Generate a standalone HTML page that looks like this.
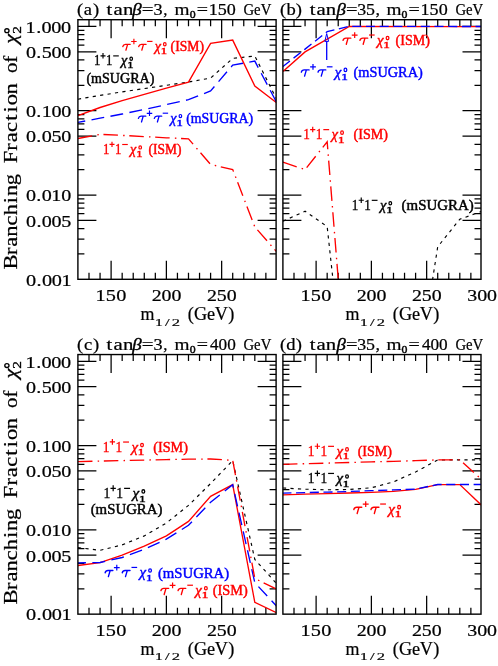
<!DOCTYPE html>
<html><head><meta charset="utf-8"><title>Branching fractions</title>
<style>html,body{margin:0;padding:0;background:#fff}svg{display:block;will-change:transform}text{font-family:"Liberation Serif",serif;white-space:pre}</style></head><body>
<svg width="498" height="666" viewBox="0 0 498 666">
<rect width="498" height="666" fill="#fff"/>
<defs>
<clipPath id="clipa"><rect x="77.9" y="19.7" width="198.2" height="259.6"/></clipPath>
<clipPath id="clipb"><rect x="282.9" y="19.7" width="198.1" height="259.6"/></clipPath>
<clipPath id="clipc"><rect x="77.9" y="354.55" width="198.2" height="259.6"/></clipPath>
<clipPath id="clipd"><rect x="282.9" y="354.55" width="198.1" height="259.6"/></clipPath>
</defs>
<path d="M77.9 253.93h6.5M276.1 253.93h-6.5M77.9 239.09h6.5M276.1 239.09h-6.5M77.9 228.56h6.5M276.1 228.56h-6.5M77.9 220.39h18.5M276.1 220.39h-18.5M77.9 213.71h6.5M276.1 213.71h-6.5M77.9 208.07h6.5M276.1 208.07h-6.5M77.9 203.18h6.5M276.1 203.18h-6.5M77.9 198.87h6.5M276.1 198.87h-6.5M77.9 195.02h18.5M276.1 195.02h-18.5M77.9 169.64h6.5M276.1 169.64h-6.5M77.9 154.8h6.5M276.1 154.8h-6.5M77.9 144.27h6.5M276.1 144.27h-6.5M77.9 136.11h18.5M276.1 136.11h-18.5M77.9 129.43h6.5M276.1 129.43h-6.5M77.9 123.79h6.5M276.1 123.79h-6.5M77.9 118.9h6.5M276.1 118.9h-6.5M77.9 114.59h6.5M276.1 114.59h-6.5M77.9 110.73h18.5M276.1 110.73h-18.5M77.9 85.36h6.5M276.1 85.36h-6.5M77.9 70.52h6.5M276.1 70.52h-6.5M77.9 59.99h6.5M276.1 59.99h-6.5M77.9 51.82h18.5M276.1 51.82h-18.5M77.9 45.15h6.5M276.1 45.15h-6.5M77.9 39.51h6.5M276.1 39.51h-6.5M77.9 34.62h6.5M276.1 34.62h-6.5M77.9 30.31h6.5M276.1 30.31h-6.5M77.9 26.45h18.5M276.1 26.45h-18.5M89 19.7v6.5M89 279.3v-6.5M100.06 19.7v6.5M100.06 279.3v-6.5M111.11 19.7v18.5M111.11 279.3v-18.5M122.17 19.7v6.5M122.17 279.3v-6.5M133.22 19.7v6.5M133.22 279.3v-6.5M144.27 19.7v6.5M144.27 279.3v-6.5M155.33 19.7v6.5M155.33 279.3v-6.5M166.38 19.7v18.5M166.38 279.3v-18.5M177.44 19.7v6.5M177.44 279.3v-6.5M188.49 19.7v6.5M188.49 279.3v-6.5M199.54 19.7v6.5M199.54 279.3v-6.5M210.6 19.7v6.5M210.6 279.3v-6.5M221.65 19.7v18.5M221.65 279.3v-18.5M232.71 19.7v6.5M232.71 279.3v-6.5M243.76 19.7v6.5M243.76 279.3v-6.5M254.81 19.7v6.5M254.81 279.3v-6.5M265.87 19.7v6.5M265.87 279.3v-6.5" fill="none" stroke="#000000" stroke-width="1.25"/>
<path d="M282.9 253.93h6.5M481 253.93h-6.5M282.9 239.09h6.5M481 239.09h-6.5M282.9 228.56h6.5M481 228.56h-6.5M282.9 220.39h18.5M481 220.39h-18.5M282.9 213.71h6.5M481 213.71h-6.5M282.9 208.07h6.5M481 208.07h-6.5M282.9 203.18h6.5M481 203.18h-6.5M282.9 198.87h6.5M481 198.87h-6.5M282.9 195.02h18.5M481 195.02h-18.5M282.9 169.64h6.5M481 169.64h-6.5M282.9 154.8h6.5M481 154.8h-6.5M282.9 144.27h6.5M481 144.27h-6.5M282.9 136.11h18.5M481 136.11h-18.5M282.9 129.43h6.5M481 129.43h-6.5M282.9 123.79h6.5M481 123.79h-6.5M282.9 118.9h6.5M481 118.9h-6.5M282.9 114.59h6.5M481 114.59h-6.5M282.9 110.73h18.5M481 110.73h-18.5M282.9 85.36h6.5M481 85.36h-6.5M282.9 70.52h6.5M481 70.52h-6.5M282.9 59.99h6.5M481 59.99h-6.5M282.9 51.82h18.5M481 51.82h-18.5M282.9 45.15h6.5M481 45.15h-6.5M282.9 39.51h6.5M481 39.51h-6.5M282.9 34.62h6.5M481 34.62h-6.5M282.9 30.31h6.5M481 30.31h-6.5M282.9 26.45h18.5M481 26.45h-18.5M294 19.7v6.5M294 279.3v-6.5M305.06 19.7v6.5M305.06 279.3v-6.5M316.11 19.7v18.5M316.11 279.3v-18.5M327.17 19.7v6.5M327.17 279.3v-6.5M338.22 19.7v6.5M338.22 279.3v-6.5M349.27 19.7v6.5M349.27 279.3v-6.5M360.33 19.7v6.5M360.33 279.3v-6.5M371.38 19.7v18.5M371.38 279.3v-18.5M382.44 19.7v6.5M382.44 279.3v-6.5M393.49 19.7v6.5M393.49 279.3v-6.5M404.54 19.7v6.5M404.54 279.3v-6.5M415.6 19.7v6.5M415.6 279.3v-6.5M426.65 19.7v18.5M426.65 279.3v-18.5M437.71 19.7v6.5M437.71 279.3v-6.5M448.76 19.7v6.5M448.76 279.3v-6.5M459.81 19.7v6.5M459.81 279.3v-6.5M470.87 19.7v6.5M470.87 279.3v-6.5" fill="none" stroke="#000000" stroke-width="1.25"/>
<path d="M77.9 588.78h6.5M276.1 588.78h-6.5M77.9 573.94h6.5M276.1 573.94h-6.5M77.9 563.41h6.5M276.1 563.41h-6.5M77.9 555.24h18.5M276.1 555.24h-18.5M77.9 548.56h6.5M276.1 548.56h-6.5M77.9 542.92h6.5M276.1 542.92h-6.5M77.9 538.03h6.5M276.1 538.03h-6.5M77.9 533.72h6.5M276.1 533.72h-6.5M77.9 529.87h18.5M276.1 529.87h-18.5M77.9 504.49h6.5M276.1 504.49h-6.5M77.9 489.65h6.5M276.1 489.65h-6.5M77.9 479.12h6.5M276.1 479.12h-6.5M77.9 470.96h18.5M276.1 470.96h-18.5M77.9 464.28h6.5M276.1 464.28h-6.5M77.9 458.64h6.5M276.1 458.64h-6.5M77.9 453.75h6.5M276.1 453.75h-6.5M77.9 449.44h6.5M276.1 449.44h-6.5M77.9 445.58h18.5M276.1 445.58h-18.5M77.9 420.21h6.5M276.1 420.21h-6.5M77.9 405.37h6.5M276.1 405.37h-6.5M77.9 394.84h6.5M276.1 394.84h-6.5M77.9 386.67h18.5M276.1 386.67h-18.5M77.9 380h6.5M276.1 380h-6.5M77.9 374.36h6.5M276.1 374.36h-6.5M77.9 369.47h6.5M276.1 369.47h-6.5M77.9 365.16h6.5M276.1 365.16h-6.5M77.9 361.3h18.5M276.1 361.3h-18.5M89 354.55v6.5M89 614.15v-6.5M100.06 354.55v6.5M100.06 614.15v-6.5M111.11 354.55v18.5M111.11 614.15v-18.5M122.17 354.55v6.5M122.17 614.15v-6.5M133.22 354.55v6.5M133.22 614.15v-6.5M144.27 354.55v6.5M144.27 614.15v-6.5M155.33 354.55v6.5M155.33 614.15v-6.5M166.38 354.55v18.5M166.38 614.15v-18.5M177.44 354.55v6.5M177.44 614.15v-6.5M188.49 354.55v6.5M188.49 614.15v-6.5M199.54 354.55v6.5M199.54 614.15v-6.5M210.6 354.55v6.5M210.6 614.15v-6.5M221.65 354.55v18.5M221.65 614.15v-18.5M232.71 354.55v6.5M232.71 614.15v-6.5M243.76 354.55v6.5M243.76 614.15v-6.5M254.81 354.55v6.5M254.81 614.15v-6.5M265.87 354.55v6.5M265.87 614.15v-6.5" fill="none" stroke="#000000" stroke-width="1.25"/>
<path d="M282.9 588.78h6.5M481 588.78h-6.5M282.9 573.94h6.5M481 573.94h-6.5M282.9 563.41h6.5M481 563.41h-6.5M282.9 555.24h18.5M481 555.24h-18.5M282.9 548.56h6.5M481 548.56h-6.5M282.9 542.92h6.5M481 542.92h-6.5M282.9 538.03h6.5M481 538.03h-6.5M282.9 533.72h6.5M481 533.72h-6.5M282.9 529.87h18.5M481 529.87h-18.5M282.9 504.49h6.5M481 504.49h-6.5M282.9 489.65h6.5M481 489.65h-6.5M282.9 479.12h6.5M481 479.12h-6.5M282.9 470.96h18.5M481 470.96h-18.5M282.9 464.28h6.5M481 464.28h-6.5M282.9 458.64h6.5M481 458.64h-6.5M282.9 453.75h6.5M481 453.75h-6.5M282.9 449.44h6.5M481 449.44h-6.5M282.9 445.58h18.5M481 445.58h-18.5M282.9 420.21h6.5M481 420.21h-6.5M282.9 405.37h6.5M481 405.37h-6.5M282.9 394.84h6.5M481 394.84h-6.5M282.9 386.67h18.5M481 386.67h-18.5M282.9 380h6.5M481 380h-6.5M282.9 374.36h6.5M481 374.36h-6.5M282.9 369.47h6.5M481 369.47h-6.5M282.9 365.16h6.5M481 365.16h-6.5M282.9 361.3h18.5M481 361.3h-18.5M294 354.55v6.5M294 614.15v-6.5M305.06 354.55v6.5M305.06 614.15v-6.5M316.11 354.55v18.5M316.11 614.15v-18.5M327.17 354.55v6.5M327.17 614.15v-6.5M338.22 354.55v6.5M338.22 614.15v-6.5M349.27 354.55v6.5M349.27 614.15v-6.5M360.33 354.55v6.5M360.33 614.15v-6.5M371.38 354.55v18.5M371.38 614.15v-18.5M382.44 354.55v6.5M382.44 614.15v-6.5M393.49 354.55v6.5M393.49 614.15v-6.5M404.54 354.55v6.5M404.54 614.15v-6.5M415.6 354.55v6.5M415.6 614.15v-6.5M426.65 354.55v18.5M426.65 614.15v-18.5M437.71 354.55v6.5M437.71 614.15v-6.5M448.76 354.55v6.5M448.76 614.15v-6.5M459.81 354.55v6.5M459.81 614.15v-6.5M470.87 354.55v6.5M470.87 614.15v-6.5" fill="none" stroke="#000000" stroke-width="1.25"/>
<path d="M77.95 99.2L100.06 95.4L122.17 91.9L144.27 88.6L166.38 85.3L188.49 82L210.6 78.1L232.71 58.4L254.81 56L276.92 99.7" fill="none" stroke="#000000" stroke-width="1.15" stroke-linejoin="miter" stroke-dasharray="3.2 4.3" clip-path="url(#clipa)"/>
<path d="M77.95 115.7L100.06 107.5L122.17 100.6L144.27 94.3L166.38 88.2L188.49 82.1L210.6 43.4L232.71 40.1L254.81 86L276.92 103" fill="none" stroke="#ff0000" stroke-width="1.35" stroke-linejoin="miter" clip-path="url(#clipa)"/>
<path d="M77.95 122.4L100.06 118.2L122.17 114L144.27 109.5L166.38 104.6L188.49 99.7L210.6 90.9L232.71 65.1L254.81 61.1L276.92 103" fill="none" stroke="#0000ff" stroke-width="1.35" stroke-linejoin="miter" stroke-dasharray="12.9 6.4" stroke-dashoffset="5.5" clip-path="url(#clipa)"/>
<path d="M77.95 138.5L100.06 134.3L122.17 135.4L144.27 136.6L166.38 137.8L188.49 138.8L210.6 164.5L232.71 169.5L254.81 226.9L276.92 252.1" fill="none" stroke="#ff0000" stroke-width="1.35" stroke-linejoin="miter" stroke-dasharray="14.5 5.2 1.5 4.7" clip-path="url(#clipa)"/>
<path d="M282.95 221.2L305.06 211.2L327.17 226.6L333 280" fill="none" stroke="#000000" stroke-width="1.15" stroke-linejoin="miter" stroke-dasharray="3.2 4.3" clip-path="url(#clipb)"/>
<path d="M432.5 280L437.71 246.8L459.81 219.2L481.92 211.3" fill="none" stroke="#000000" stroke-width="1.15" stroke-linejoin="miter" stroke-dasharray="3.2 4.3" clip-path="url(#clipb)"/>
<path d="M282.95 71.4L305.06 51.9L349.27 26.4L481.92 26.6" fill="none" stroke="#ff0000" stroke-width="1.35" stroke-linejoin="miter" clip-path="url(#clipb)"/>
<path d="M282.95 66.5L305.06 49.1L327.17 31.7L349.27 26.3L481.92 26.5" fill="none" stroke="#0000ff" stroke-width="1.35" stroke-linejoin="miter" stroke-dasharray="9.1 4.6" stroke-dashoffset="0.2" clip-path="url(#clipb)"/>
<path d="M282.95 162.2L305.06 169.6L327.17 141.8L338.3 280" fill="none" stroke="#ff0000" stroke-width="1.35" stroke-linejoin="miter" stroke-dasharray="14.5 5.2 1.5 4.7" clip-path="url(#clipb)"/>
<path d="M326.7 60.1V41.3" fill="none" stroke="#0000ff" stroke-width="1.3"/>
<path d="M324.8 41.4L326.7 33.6L328.6 41.4Z" fill="none" stroke="#0000ff" stroke-width="1"/>
<path d="M77.95 547.6L100.06 550.3L122.17 544.9L144.27 535.9L166.38 523L188.49 505.4L210.6 483.5L232.71 460.6L254.81 559.4L276.92 584" fill="none" stroke="#000000" stroke-width="1.15" stroke-linejoin="miter" stroke-dasharray="3.2 4.3" clip-path="url(#clipc)"/>
<path d="M77.95 565.5L100.06 562.6L122.17 555.2L144.27 546.2L166.38 535.9L188.49 521.4L210.6 496.4L232.71 484.6L254.81 602.3L276.92 613" fill="none" stroke="#ff0000" stroke-width="1.35" stroke-linejoin="miter" clip-path="url(#clipc)"/>
<path d="M77.95 562.9L100.06 562.5L122.17 557.5L144.27 549.4L166.38 539.1L188.49 525.3L210.6 502.2L232.71 484.8L254.81 582.7L276.92 606.5" fill="none" stroke="#0000ff" stroke-width="1.35" stroke-linejoin="miter" stroke-dasharray="12.9 6.4" stroke-dashoffset="4.9" clip-path="url(#clipc)"/>
<path d="M77.95 461.6L100.06 461.1L122.17 460.6L144.27 460.1L166.38 459.6L188.49 459.2L210.6 459L232.71 460.3L254.81 578.5L276.92 589.3" fill="none" stroke="#ff0000" stroke-width="1.35" stroke-linejoin="miter" stroke-dasharray="14.5 5.2 1.5 4.7" clip-path="url(#clipc)"/>
<path d="M282.95 488L305.06 489.2L327.17 489.8L349.27 489.5L371.38 487.8L393.49 481.9L415.6 471.9L437.71 460L459.81 459.9L481.92 459.9" fill="none" stroke="#000000" stroke-width="1.15" stroke-linejoin="miter" stroke-dasharray="3.2 4.3" clip-path="url(#clipd)"/>
<path d="M282.95 494.8L305.06 494.2L327.17 493.6L349.27 493L371.38 492.3L393.49 491.3L415.6 489.4L437.71 484.6L459.81 484.6L481.92 505.6" fill="none" stroke="#ff0000" stroke-width="1.35" stroke-linejoin="miter" clip-path="url(#clipd)"/>
<path d="M282.95 493.1L305.06 492.6L327.17 492.1L349.27 491.5L371.38 490.7L393.49 489.9L415.6 489.1L437.71 484.5L459.81 484.5L481.92 484.5" fill="none" stroke="#0000ff" stroke-width="1.35" stroke-linejoin="miter" stroke-dasharray="9.1 4.6" stroke-dashoffset="0.6" clip-path="url(#clipd)"/>
<path d="M282.95 464.3L305.06 463.7L327.17 463.1L349.27 462.5L371.38 461.9L393.49 461.3L415.6 460.7L437.71 459.9L459.81 459.9L481.92 479.8" fill="none" stroke="#ff0000" stroke-width="1.35" stroke-linejoin="miter" stroke-dasharray="14.5 5.2 1.5 4.7" clip-path="url(#clipd)"/>
<rect x="77.9" y="19.7" width="198.2" height="259.6" fill="none" stroke="#000000" stroke-width="1.4"/>
<rect x="282.9" y="19.7" width="198.1" height="259.6" fill="none" stroke="#000000" stroke-width="1.4"/>
<rect x="77.9" y="354.55" width="198.2" height="259.6" fill="none" stroke="#000000" stroke-width="1.4"/>
<rect x="282.9" y="354.55" width="198.1" height="259.6" fill="none" stroke="#000000" stroke-width="1.4"/>
<text transform="translate(27.4 32.75) scale(1.198 1)" x="-1.49 7.33 11.86 19.97 28.09" font-size="16.9" fill="#000000" stroke="#000000" stroke-width="0.22">1.000</text>
<text transform="translate(26.7 58.12) scale(1.190 1)" x="-0.64 8.12 12.62 20.8 28.93" font-size="16.9" fill="#000000" stroke="#000000" stroke-width="0.22">0.500</text>
<text transform="translate(26.7 117.03) scale(1.190 1)" x="-0.64 8.12 12.59 20.8 28.93" font-size="16.9" fill="#000000" stroke="#000000" stroke-width="0.22">0.100</text>
<text transform="translate(26.7 142.41) scale(1.190 1)" x="-0.64 8.12 12.67 20.75 28.93" font-size="16.9" fill="#000000" stroke="#000000" stroke-width="0.22">0.050</text>
<text transform="translate(26.7 201.32) scale(1.190 1)" x="-0.64 8.12 12.67 20.73 28.93" font-size="16.9" fill="#000000" stroke="#000000" stroke-width="0.22">0.010</text>
<text transform="translate(26.7 226.69) scale(1.190 1)" x="-0.64 8.14 12.69 20.83 28.93" font-size="16.9" fill="#000000" stroke="#000000" stroke-width="0.22">0.005</text>
<text transform="translate(26.7 285.6) scale(1.200 1)" x="-0.64 8.15 12.73 20.89 28.98" font-size="16.9" fill="#000000" stroke="#000000" stroke-width="0.22">0.001</text>
<text transform="translate(27.4 367.6) scale(1.198 1)" x="-1.49 7.33 11.86 19.97 28.09" font-size="16.9" fill="#000000" stroke="#000000" stroke-width="0.22">1.000</text>
<text transform="translate(26.7 392.97) scale(1.190 1)" x="-0.64 8.12 12.62 20.8 28.93" font-size="16.9" fill="#000000" stroke="#000000" stroke-width="0.22">0.500</text>
<text transform="translate(26.7 451.88) scale(1.190 1)" x="-0.64 8.12 12.59 20.8 28.93" font-size="16.9" fill="#000000" stroke="#000000" stroke-width="0.22">0.100</text>
<text transform="translate(26.7 477.26) scale(1.190 1)" x="-0.64 8.12 12.67 20.75 28.93" font-size="16.9" fill="#000000" stroke="#000000" stroke-width="0.22">0.050</text>
<text transform="translate(26.7 536.17) scale(1.190 1)" x="-0.64 8.12 12.67 20.73 28.93" font-size="16.9" fill="#000000" stroke="#000000" stroke-width="0.22">0.010</text>
<text transform="translate(26.7 561.54) scale(1.190 1)" x="-0.64 8.14 12.69 20.83 28.93" font-size="16.9" fill="#000000" stroke="#000000" stroke-width="0.22">0.005</text>
<text transform="translate(26.7 620.45) scale(1.200 1)" x="-0.64 8.15 12.73 20.89 28.98" font-size="16.9" fill="#000000" stroke="#000000" stroke-width="0.22">0.001</text>
<text transform="translate(97.31 300.8) scale(1.200 1)" x="-1.49 7.09 15.69" font-size="16.9" fill="#000000" stroke="#000000" stroke-width="0.22">150</text>
<text transform="translate(152.58 300.8) scale(1.177 1)" x="-0.74 7.69 16.16" font-size="16.9" fill="#000000" stroke="#000000" stroke-width="0.22">200</text>
<text transform="translate(207.85 300.8) scale(1.177 1)" x="-0.74 7.64 16.16" font-size="16.9" fill="#000000" stroke="#000000" stroke-width="0.22">250</text>
<text transform="translate(97.31 635.65) scale(1.200 1)" x="-1.49 7.09 15.69" font-size="16.9" fill="#000000" stroke="#000000" stroke-width="0.22">150</text>
<text transform="translate(152.58 635.65) scale(1.177 1)" x="-0.74 7.69 16.16" font-size="16.9" fill="#000000" stroke="#000000" stroke-width="0.22">200</text>
<text transform="translate(207.85 635.65) scale(1.177 1)" x="-0.74 7.64 16.16" font-size="16.9" fill="#000000" stroke="#000000" stroke-width="0.22">250</text>
<text transform="translate(302.31 300.8) scale(1.200 1)" x="-1.49 7.09 15.69" font-size="16.9" fill="#000000" stroke="#000000" stroke-width="0.22">150</text>
<text transform="translate(357.58 300.8) scale(1.177 1)" x="-0.74 7.69 16.16" font-size="16.9" fill="#000000" stroke="#000000" stroke-width="0.22">200</text>
<text transform="translate(412.85 300.8) scale(1.177 1)" x="-0.74 7.64 16.16" font-size="16.9" fill="#000000" stroke="#000000" stroke-width="0.22">250</text>
<text transform="translate(468.12 300.8) scale(1.180 1)" x="-0.81 7.65 16.09" font-size="16.9" fill="#000000" stroke="#000000" stroke-width="0.22">300</text>
<text transform="translate(302.31 635.65) scale(1.200 1)" x="-1.49 7.09 15.69" font-size="16.9" fill="#000000" stroke="#000000" stroke-width="0.22">150</text>
<text transform="translate(357.58 635.65) scale(1.177 1)" x="-0.74 7.69 16.16" font-size="16.9" fill="#000000" stroke="#000000" stroke-width="0.22">200</text>
<text transform="translate(412.85 635.65) scale(1.177 1)" x="-0.74 7.64 16.16" font-size="16.9" fill="#000000" stroke="#000000" stroke-width="0.22">250</text>
<text transform="translate(468.12 635.65) scale(1.180 1)" x="-0.81 7.65 16.09" font-size="16.9" fill="#000000" stroke="#000000" stroke-width="0.22">300</text>
<text transform="translate(140.8 319.8) scale(0.925 1)" x="-0.41" font-size="19.4" fill="#000000" stroke="#000000" stroke-width="0.22">m</text>
<text transform="translate(156.2 325.5) scale(1.450 1)" x="-1 6.15 10.72" font-size="11.4" fill="#000000" stroke="#000000" stroke-width="0.18">1/2</text>
<text transform="translate(188.6 319.8) scale(0.941 1)" x="-0.85 5.86 19.6 27.93 42.24" font-size="19.4" fill="#000000" stroke="#000000" stroke-width="0.22">(GeV)</text>
<text transform="translate(140.8 654.65) scale(0.925 1)" x="-0.41" font-size="19.4" fill="#000000" stroke="#000000" stroke-width="0.22">m</text>
<text transform="translate(156.2 660.35) scale(1.450 1)" x="-1 6.15 10.72" font-size="11.4" fill="#000000" stroke="#000000" stroke-width="0.18">1/2</text>
<text transform="translate(188.6 654.65) scale(0.941 1)" x="-0.85 5.86 19.6 27.93 42.24" font-size="19.4" fill="#000000" stroke="#000000" stroke-width="0.22">(GeV)</text>
<text transform="translate(345.8 319.8) scale(0.925 1)" x="-0.41" font-size="19.4" fill="#000000" stroke="#000000" stroke-width="0.22">m</text>
<text transform="translate(361.2 325.5) scale(1.450 1)" x="-1 6.15 10.72" font-size="11.4" fill="#000000" stroke="#000000" stroke-width="0.18">1/2</text>
<text transform="translate(393.6 319.8) scale(0.941 1)" x="-0.85 5.86 19.6 27.93 42.24" font-size="19.4" fill="#000000" stroke="#000000" stroke-width="0.22">(GeV)</text>
<text transform="translate(345.8 654.65) scale(0.925 1)" x="-0.41" font-size="19.4" fill="#000000" stroke="#000000" stroke-width="0.22">m</text>
<text transform="translate(361.2 660.35) scale(1.450 1)" x="-1 6.15 10.72" font-size="11.4" fill="#000000" stroke="#000000" stroke-width="0.18">1/2</text>
<text transform="translate(393.6 654.65) scale(0.941 1)" x="-0.85 5.86 19.6 27.93 42.24" font-size="19.4" fill="#000000" stroke="#000000" stroke-width="0.22">(GeV)</text>
<g transform="translate(16.9 268.9) rotate(-90)">
<text transform="translate(0 0) scale(1.160 1)" x="-0.56 11.95 19.16 27.82 37.52 46.17 56.64 62.8 72.13" font-size="19.4" fill="#000000" stroke="#000000" stroke-width="0.22">Branching</text>
<text transform="translate(106.2 0) scale(1.160 1)" x="-0.56 10.36 17.54 26.45 36.12 43.36 49.52 58.87" font-size="19.4" fill="#000000" stroke="#000000" stroke-width="0.22">Fraction</text>
<text transform="translate(196.6 0) scale(1.076 1)" x="-0.74 8.96" font-size="19.4" fill="#000000" stroke="#000000" stroke-width="0.22">of</text>
<text transform="translate(223.4 0) scale(1.154 1)" x="1.55" font-size="19.4" fill="#000000" font-style="italic" stroke="#000000" stroke-width="0.3">χ</text>
<text transform="translate(235.7 3.7) scale(1.153 1)" x="-0.58" font-size="13.2" fill="#000000" stroke="#000000" stroke-width="0.35">2</text>
<ellipse cx="238.2" cy="-10.0" rx="1.9" ry="2.1" fill="none" stroke="#000" stroke-width="1.35"/>
</g>
<g transform="translate(16.9 603.75) rotate(-90)">
<text transform="translate(0 0) scale(1.160 1)" x="-0.56 11.95 19.16 27.82 37.52 46.17 56.64 62.8 72.13" font-size="19.4" fill="#000000" stroke="#000000" stroke-width="0.22">Branching</text>
<text transform="translate(106.2 0) scale(1.160 1)" x="-0.56 10.36 17.54 26.45 36.12 43.36 49.52 58.87" font-size="19.4" fill="#000000" stroke="#000000" stroke-width="0.22">Fraction</text>
<text transform="translate(196.6 0) scale(1.076 1)" x="-0.74 8.96" font-size="19.4" fill="#000000" stroke="#000000" stroke-width="0.22">of</text>
<text transform="translate(223.4 0) scale(1.154 1)" x="1.55" font-size="19.4" fill="#000000" font-style="italic" stroke="#000000" stroke-width="0.3">χ</text>
<text transform="translate(235.7 3.7) scale(1.153 1)" x="-0.58" font-size="13.2" fill="#000000" stroke="#000000" stroke-width="0.35">2</text>
<ellipse cx="238.2" cy="-10.0" rx="1.9" ry="2.1" fill="none" stroke="#000" stroke-width="1.35"/>
</g>
<text transform="translate(77.8 15) scale(1.160 1)" x="-0.7 5.2 13.05" font-size="16" fill="#000000" stroke="#000000" stroke-width="0.22">(a)</text>
<text transform="translate(106.7 15) scale(1.300 1)" x="-0.16 5.29 12.63" font-size="16" fill="#000000" stroke="#000000" stroke-width="0.22">tan</text>
<text transform="translate(132 15) scale(1.182 1)" x="0.26" font-size="16" fill="#000000" font-style="italic" stroke="#000000" stroke-width="0.4">β</text>
<text transform="translate(142.9 15) scale(1.303 1)" x="-0.8" font-size="16" fill="#000000" stroke="#000000" stroke-width="0.22">=</text>
<text transform="translate(154.3 15) scale(1.135 1)" x="-0.77" font-size="16" fill="#000000" stroke="#000000" stroke-width="0.22">3</text>
<text transform="translate(164 15) scale(1.049 1)" x="-0.61" font-size="16" fill="#000000" stroke="#000000" stroke-width="0.22">,</text>
<text transform="translate(174.9 15) scale(1.206 1)" x="-0.34" font-size="16" fill="#000000" stroke="#000000" stroke-width="0.22">m</text>
<text transform="translate(190.1 18.3) scale(1.180 1)" x="-0.38" font-size="10" fill="#000000" stroke="#000000" stroke-width="0.4">0</text>
<text transform="translate(197.7 15) scale(1.249 1)" x="-0.8" font-size="16" fill="#000000" stroke="#000000" stroke-width="0.22">=</text>
<text transform="translate(210.3 15) scale(1.128 1)" x="-1.41 6.57 14.59" font-size="16" fill="#000000" stroke="#000000" stroke-width="0.22">150</text>
<text transform="translate(244.1 15) scale(0.919 1)" x="-0.66 10.9 18" font-size="16" fill="#000000" stroke="#000000" stroke-width="0.22">GeV</text>
<text transform="translate(280.7 15) scale(1.160 1)" x="-0.7 4.99 13.05" font-size="16" fill="#000000" stroke="#000000" stroke-width="0.22">(b)</text>
<text transform="translate(310 15) scale(1.300 1)" x="-0.16 5.06 12.17" font-size="16" fill="#000000" stroke="#000000" stroke-width="0.22">tan</text>
<text transform="translate(336.3 15) scale(1.170 1)" x="0.26" font-size="16" fill="#000000" font-style="italic" stroke="#000000" stroke-width="0.4">β</text>
<text transform="translate(346.9 15) scale(1.276 1)" x="-0.8" font-size="16" fill="#000000" stroke="#000000" stroke-width="0.22">=</text>
<text transform="translate(358 15) scale(1.116 1)" x="-0.77 7.23" font-size="16" fill="#000000" stroke="#000000" stroke-width="0.22">35</text>
<text transform="translate(376.3 15) scale(1.133 1)" x="-0.61" font-size="16" fill="#000000" stroke="#000000" stroke-width="0.22">,</text>
<text transform="translate(386.8 15) scale(1.206 1)" x="-0.34" font-size="16" fill="#000000" stroke="#000000" stroke-width="0.22">m</text>
<text transform="translate(402 18.3) scale(1.180 1)" x="-0.38" font-size="10" fill="#000000" stroke="#000000" stroke-width="0.4">0</text>
<text transform="translate(409.6 15) scale(1.249 1)" x="-0.8" font-size="16" fill="#000000" stroke="#000000" stroke-width="0.22">=</text>
<text transform="translate(422.2 15) scale(1.128 1)" x="-1.41 6.57 14.59" font-size="16" fill="#000000" stroke="#000000" stroke-width="0.22">150</text>
<text transform="translate(456 15) scale(0.919 1)" x="-0.66 10.9 18" font-size="16" fill="#000000" stroke="#000000" stroke-width="0.22">GeV</text>
<text transform="translate(77.8 349.85) scale(1.160 1)" x="-0.7 5.26 13.05" font-size="16" fill="#000000" stroke="#000000" stroke-width="0.22">(c)</text>
<text transform="translate(106.7 349.85) scale(1.300 1)" x="-0.16 5.29 12.63" font-size="16" fill="#000000" stroke="#000000" stroke-width="0.22">tan</text>
<text transform="translate(132 349.85) scale(1.182 1)" x="0.26" font-size="16" fill="#000000" font-style="italic" stroke="#000000" stroke-width="0.4">β</text>
<text transform="translate(142.9 349.85) scale(1.303 1)" x="-0.8" font-size="16" fill="#000000" stroke="#000000" stroke-width="0.22">=</text>
<text transform="translate(154.3 349.85) scale(1.135 1)" x="-0.77" font-size="16" fill="#000000" stroke="#000000" stroke-width="0.22">3</text>
<text transform="translate(164 349.85) scale(1.049 1)" x="-0.61" font-size="16" fill="#000000" stroke="#000000" stroke-width="0.22">,</text>
<text transform="translate(174.9 349.85) scale(1.206 1)" x="-0.34" font-size="16" fill="#000000" stroke="#000000" stroke-width="0.22">m</text>
<text transform="translate(190.1 353.15) scale(1.180 1)" x="-0.38" font-size="10" fill="#000000" stroke="#000000" stroke-width="0.4">0</text>
<text transform="translate(197.7 349.85) scale(1.249 1)" x="-0.8" font-size="16" fill="#000000" stroke="#000000" stroke-width="0.22">=</text>
<text transform="translate(210.3 349.85) scale(1.075 1)" x="-0.31 7.7 15.69" font-size="16" fill="#000000" stroke="#000000" stroke-width="0.22">400</text>
<text transform="translate(244.1 349.85) scale(0.919 1)" x="-0.66 10.9 18" font-size="16" fill="#000000" stroke="#000000" stroke-width="0.22">GeV</text>
<text transform="translate(280.7 349.85) scale(1.160 1)" x="-0.7 4.74 13.05" font-size="16" fill="#000000" stroke="#000000" stroke-width="0.22">(d)</text>
<text transform="translate(310 349.85) scale(1.300 1)" x="-0.16 5.06 12.17" font-size="16" fill="#000000" stroke="#000000" stroke-width="0.22">tan</text>
<text transform="translate(336.3 349.85) scale(1.170 1)" x="0.26" font-size="16" fill="#000000" font-style="italic" stroke="#000000" stroke-width="0.4">β</text>
<text transform="translate(346.9 349.85) scale(1.276 1)" x="-0.8" font-size="16" fill="#000000" stroke="#000000" stroke-width="0.22">=</text>
<text transform="translate(358 349.85) scale(1.116 1)" x="-0.77 7.23" font-size="16" fill="#000000" stroke="#000000" stroke-width="0.22">35</text>
<text transform="translate(376.3 349.85) scale(1.133 1)" x="-0.61" font-size="16" fill="#000000" stroke="#000000" stroke-width="0.22">,</text>
<text transform="translate(386.8 349.85) scale(1.206 1)" x="-0.34" font-size="16" fill="#000000" stroke="#000000" stroke-width="0.22">m</text>
<text transform="translate(402 353.15) scale(1.180 1)" x="-0.38" font-size="10" fill="#000000" stroke="#000000" stroke-width="0.4">0</text>
<text transform="translate(409.6 349.85) scale(1.249 1)" x="-0.8" font-size="16" fill="#000000" stroke="#000000" stroke-width="0.22">=</text>
<text transform="translate(422.2 349.85) scale(1.075 1)" x="-0.31 7.7 15.69" font-size="16" fill="#000000" stroke="#000000" stroke-width="0.22">400</text>
<text transform="translate(456 349.85) scale(0.919 1)" x="-0.66 10.9 18" font-size="16" fill="#000000" stroke="#000000" stroke-width="0.22">GeV</text>
<path transform="translate(122.2 50.8) scale(1)" d="M0.6 -4.3C1 -5.9 1.9 -6.45 3.3 -6.45L8.0 -6.45M5.4 -6.45L3.7 -0.6" fill="none" stroke="#ff0000" stroke-width="1.3" stroke-linecap="round"/>
<path d="M131.15 41.5h5.5M133.9 38.75v5.5" fill="none" stroke="#ff0000" stroke-width="1.15"/>
<path transform="translate(138.1 50.8) scale(1)" d="M0.6 -4.3C1 -5.9 1.9 -6.45 3.3 -6.45L8.0 -6.45M5.4 -6.45L3.7 -0.6" fill="none" stroke="#ff0000" stroke-width="1.3" stroke-linecap="round"/>
<path d="M147.1 41.4h5.4" fill="none" stroke="#ff0000" stroke-width="1.15"/>
<text transform="translate(153.6 50.8) scale(1.019 1)" x="1.11" font-size="13.8" fill="#ff0000" font-style="italic" stroke="#ff0000" stroke-width="0.45">χ</text>
<ellipse cx="164.8" cy="44.3" rx="1.3" ry="1.6" fill="none" stroke="#ff0000" stroke-width="1.2"/>
<text transform="translate(161.9 53.9) scale(1.453 1)" x="-0.76" font-size="8.6" fill="#ff0000" stroke="#ff0000" stroke-width="0.45">1</text>
<text transform="translate(171.2 51) scale(0.976 1)" x="-0.62 4.05 8.71 16.5 28.94" font-size="14" fill="#ff0000" stroke="#ff0000" stroke-width="0.45">(ISM)</text>
<text transform="translate(95 65) scale(0.913 1)" x="-1.23" font-size="14" fill="#000000" stroke="#000000" stroke-width="0.32">1</text>
<path d="M100.5 55.8h5M103 53.1v5.4" fill="none" stroke="#000000" stroke-width="1.15"/>
<text transform="translate(107.1 65) scale(0.913 1)" x="-1.23" font-size="14" fill="#000000" stroke="#000000" stroke-width="0.32">1</text>
<path d="M113.2 55.9h5.6" fill="none" stroke="#000000" stroke-width="1.15"/>
<text transform="translate(120 65.3) scale(1.019 1)" x="1.11" font-size="13.8" fill="#000000" font-style="italic" stroke="#000000" stroke-width="0.45">χ</text>
<ellipse cx="131.2" cy="58.8" rx="1.3" ry="1.6" fill="none" stroke="#000000" stroke-width="1.2"/>
<text transform="translate(128.3 68.4) scale(1.453 1)" x="-0.76" font-size="8.6" fill="#000000" stroke="#000000" stroke-width="0.45">1</text>
<text transform="translate(87 82.5) scale(1.008 1)" x="-0.61 4.03 14.89 22.65 32.73 42.82 52.13 62.21" font-size="13.96" fill="#000000" stroke="#000000" stroke-width="0.45">(mSUGRA)</text>
<path transform="translate(137.8 122.6) scale(1)" d="M0.6 -4.3C1 -5.9 1.9 -6.45 3.3 -6.45L8.0 -6.45M5.4 -6.45L3.7 -0.6" fill="none" stroke="#0000ff" stroke-width="1.3" stroke-linecap="round"/>
<path d="M146.75 113.3h5.5M149.5 110.55v5.5" fill="none" stroke="#0000ff" stroke-width="1.15"/>
<path transform="translate(153.7 122.6) scale(1)" d="M0.6 -4.3C1 -5.9 1.9 -6.45 3.3 -6.45L8.0 -6.45M5.4 -6.45L3.7 -0.6" fill="none" stroke="#0000ff" stroke-width="1.3" stroke-linecap="round"/>
<path d="M162.7 113.2h5.4" fill="none" stroke="#0000ff" stroke-width="1.15"/>
<text transform="translate(169.2 122.6) scale(1.019 1)" x="1.11" font-size="13.8" fill="#0000ff" font-style="italic" stroke="#0000ff" stroke-width="0.45">χ</text>
<ellipse cx="180.4" cy="116.1" rx="1.3" ry="1.6" fill="none" stroke="#0000ff" stroke-width="1.2"/>
<text transform="translate(177.5 125.7) scale(1.453 1)" x="-0.76" font-size="8.6" fill="#0000ff" stroke="#0000ff" stroke-width="0.45">1</text>
<text transform="translate(186.8 122.8) scale(0.990 1)" x="-0.62 4.05 14.94 22.72 32.83 42.94 52.28 62.39" font-size="14" fill="#0000ff" stroke="#0000ff" stroke-width="0.45">(mSUGRA)</text>
<text transform="translate(104 153.6) scale(0.913 1)" x="-1.23" font-size="14" fill="#ff0000" stroke="#ff0000" stroke-width="0.32">1</text>
<path d="M109.5 144.4h5M112 141.7v5.4" fill="none" stroke="#ff0000" stroke-width="1.15"/>
<text transform="translate(116.1 153.6) scale(0.913 1)" x="-1.23" font-size="14" fill="#ff0000" stroke="#ff0000" stroke-width="0.32">1</text>
<path d="M122.2 144.5h5.6" fill="none" stroke="#ff0000" stroke-width="1.15"/>
<text transform="translate(129 153.9) scale(1.019 1)" x="1.11" font-size="13.8" fill="#ff0000" font-style="italic" stroke="#ff0000" stroke-width="0.45">χ</text>
<ellipse cx="140.2" cy="147.4" rx="1.3" ry="1.6" fill="none" stroke="#ff0000" stroke-width="1.2"/>
<text transform="translate(137.3 157) scale(1.453 1)" x="-0.76" font-size="8.6" fill="#ff0000" stroke="#ff0000" stroke-width="0.45">1</text>
<text transform="translate(149.2 153.6) scale(0.961 1)" x="-0.62 4.05 8.71 16.5 28.94" font-size="14" fill="#ff0000" stroke="#ff0000" stroke-width="0.45">(ISM)</text>
<path transform="translate(342.4 44.9) scale(1.05)" d="M0.6 -4.3C1 -5.9 1.9 -6.45 3.3 -6.45L8.0 -6.45M5.4 -6.45L3.7 -0.6" fill="none" stroke="#ff0000" stroke-width="1.3" stroke-linecap="round"/>
<path d="M351.8 35.13h5.78M354.69 32.25v5.78" fill="none" stroke="#ff0000" stroke-width="1.21"/>
<path transform="translate(359.3 44.9) scale(1.05)" d="M0.6 -4.3C1 -5.9 1.9 -6.45 3.3 -6.45L8.0 -6.45M5.4 -6.45L3.7 -0.6" fill="none" stroke="#ff0000" stroke-width="1.3" stroke-linecap="round"/>
<path d="M368.96 35.03h5.67" fill="none" stroke="#ff0000" stroke-width="1.21"/>
<text transform="translate(375.79 44.9) scale(1.019 1)" x="1.16" font-size="14.49" fill="#ff0000" font-style="italic" stroke="#ff0000" stroke-width="0.45">χ</text>
<ellipse cx="387.55" cy="38.07" rx="1.37" ry="1.68" fill="none" stroke="#ff0000" stroke-width="1.26"/>
<text transform="translate(384.5 48.16) scale(1.453 1)" x="-0.79" font-size="9.03" fill="#ff0000" stroke="#ff0000" stroke-width="0.45">1</text>
<text transform="translate(396.16 45.1) scale(0.958 1)" x="-0.65 4.25 9.14 17.32 30.39" font-size="14.7" fill="#ff0000" stroke="#ff0000" stroke-width="0.45">(ISM)</text>
<path transform="translate(300.7 76.7) scale(1.05)" d="M0.6 -4.3C1 -5.9 1.9 -6.45 3.3 -6.45L8.0 -6.45M5.4 -6.45L3.7 -0.6" fill="none" stroke="#0000ff" stroke-width="1.3" stroke-linecap="round"/>
<path d="M310.1 66.94h5.78M312.99 64.05v5.78" fill="none" stroke="#0000ff" stroke-width="1.21"/>
<path transform="translate(317.39 76.7) scale(1.05)" d="M0.6 -4.3C1 -5.9 1.9 -6.45 3.3 -6.45L8.0 -6.45M5.4 -6.45L3.7 -0.6" fill="none" stroke="#0000ff" stroke-width="1.3" stroke-linecap="round"/>
<path d="M326.85 66.83h5.67" fill="none" stroke="#0000ff" stroke-width="1.21"/>
<text transform="translate(333.67 76.7) scale(1.019 1)" x="1.16" font-size="14.49" fill="#0000ff" font-style="italic" stroke="#0000ff" stroke-width="0.45">χ</text>
<ellipse cx="345.43" cy="69.88" rx="1.37" ry="1.68" fill="none" stroke="#0000ff" stroke-width="1.26"/>
<text transform="translate(342.38 79.95) scale(1.453 1)" x="-0.79" font-size="9.03" fill="#0000ff" stroke="#0000ff" stroke-width="0.45">1</text>
<text transform="translate(354.14 76.9) scale(0.975 1)" x="-0.65 4.25 15.68 23.86 34.47 45.09 54.9 65.51" font-size="14.7" fill="#0000ff" stroke="#0000ff" stroke-width="0.45">(mSUGRA)</text>
<text transform="translate(304.4 139.1) scale(0.913 1)" x="-1.28" font-size="14.56" fill="#ff0000" stroke="#ff0000" stroke-width="0.32">1</text>
<path d="M310.12 129.53h5.2M312.72 126.72v5.62" fill="none" stroke="#ff0000" stroke-width="1.2"/>
<text transform="translate(316.98 139.1) scale(0.913 1)" x="-1.28" font-size="14.56" fill="#ff0000" stroke="#ff0000" stroke-width="0.32">1</text>
<path d="M323.33 129.64h5.82" fill="none" stroke="#ff0000" stroke-width="1.2"/>
<text transform="translate(330.4 139.41) scale(1.019 1)" x="1.15" font-size="14.35" fill="#ff0000" font-style="italic" stroke="#ff0000" stroke-width="0.45">χ</text>
<ellipse cx="342.05" cy="132.65" rx="1.35" ry="1.66" fill="none" stroke="#ff0000" stroke-width="1.25"/>
<text transform="translate(339.03 142.64) scale(1.453 1)" x="-0.79" font-size="8.94" fill="#ff0000" stroke="#ff0000" stroke-width="0.45">1</text>
<text transform="translate(354.22 139.1) scale(0.968 1)" x="-0.64 4.21 9.06 17.15 30.1" font-size="14.56" fill="#ff0000" stroke="#ff0000" stroke-width="0.45">(ISM)</text>
<text transform="translate(353 209.7) scale(0.913 1)" x="-1.27" font-size="14.42" fill="#000000" stroke="#000000" stroke-width="0.32">1</text>
<path d="M358.67 200.22h5.15M361.24 197.44v5.56" fill="none" stroke="#000000" stroke-width="1.18"/>
<text transform="translate(365.46 209.7) scale(0.913 1)" x="-1.27" font-size="14.42" fill="#000000" stroke="#000000" stroke-width="0.32">1</text>
<path d="M371.75 200.33h5.77" fill="none" stroke="#000000" stroke-width="1.18"/>
<text transform="translate(378.75 210.01) scale(1.019 1)" x="1.14" font-size="14.21" fill="#000000" font-style="italic" stroke="#000000" stroke-width="0.45">χ</text>
<ellipse cx="390.29" cy="203.31" rx="1.34" ry="1.65" fill="none" stroke="#000000" stroke-width="1.24"/>
<text transform="translate(387.3 213.2) scale(1.453 1)" x="-0.78" font-size="8.86" fill="#000000" stroke="#000000" stroke-width="0.45">1</text>
<text transform="translate(402.23 209.7) scale(1.035 1)" x="-0.63 4.17 15.38 23.4 33.82 44.23 53.85 64.26" font-size="14.42" fill="#000000" stroke="#000000" stroke-width="0.45">(mSUGRA)</text>
<text transform="translate(104 451.6) scale(0.913 1)" x="-1.29" font-size="14.7" fill="#ff0000" stroke="#ff0000" stroke-width="0.32">1</text>
<path d="M109.78 441.94h5.25M112.4 439.11v5.67" fill="none" stroke="#ff0000" stroke-width="1.21"/>
<text transform="translate(116.7 451.6) scale(0.913 1)" x="-1.29" font-size="14.7" fill="#ff0000" stroke="#ff0000" stroke-width="0.32">1</text>
<path d="M123.11 442.05h5.88" fill="none" stroke="#ff0000" stroke-width="1.21"/>
<text transform="translate(130.25 451.92) scale(1.019 1)" x="1.16" font-size="14.49" fill="#ff0000" font-style="italic" stroke="#ff0000" stroke-width="0.45">χ</text>
<ellipse cx="142.01" cy="445.09" rx="1.37" ry="1.68" fill="none" stroke="#ff0000" stroke-width="1.26"/>
<text transform="translate(138.97 455.17) scale(1.453 1)" x="-0.79" font-size="9.03" fill="#ff0000" stroke="#ff0000" stroke-width="0.45">1</text>
<text transform="translate(153.77 451.6) scale(0.970 1)" x="-0.65 4.25 9.14 17.32 30.39" font-size="14.7" fill="#ff0000" stroke="#ff0000" stroke-width="0.45">(ISM)</text>
<text transform="translate(104.6 498.1) scale(0.913 1)" x="-1.32" font-size="14.98" fill="#000000" stroke="#000000" stroke-width="0.32">1</text>
<path d="M110.48 488.26h5.35M113.16 485.37v5.78" fill="none" stroke="#000000" stroke-width="1.23"/>
<text transform="translate(117.55 498.1) scale(0.913 1)" x="-1.32" font-size="14.98" fill="#000000" stroke="#000000" stroke-width="0.32">1</text>
<path d="M124.07 488.36h5.99" fill="none" stroke="#000000" stroke-width="1.23"/>
<text transform="translate(131.35 498.42) scale(1.019 1)" x="1.18" font-size="14.77" fill="#000000" font-style="italic" stroke="#000000" stroke-width="0.45">χ</text>
<ellipse cx="143.33" cy="491.47" rx="1.39" ry="1.71" fill="none" stroke="#000000" stroke-width="1.28"/>
<text transform="translate(140.23 501.74) scale(1.453 1)" x="-0.81" font-size="9.2" fill="#000000" stroke="#000000" stroke-width="0.45">1</text>
<text transform="translate(91.3 514.4) scale(1.008 1)" x="-0.65 4.26 15.72 23.91 34.55 45.19 55.01 65.65" font-size="14.73" fill="#000000" stroke="#000000" stroke-width="0.45">(mSUGRA)</text>
<path transform="translate(104.5 577.3) scale(1.05)" d="M0.6 -4.3C1 -5.9 1.9 -6.45 3.3 -6.45L8.0 -6.45M5.4 -6.45L3.7 -0.6" fill="none" stroke="#0000ff" stroke-width="1.3" stroke-linecap="round"/>
<path d="M113.9 567.53h5.78M116.78 564.65v5.78" fill="none" stroke="#0000ff" stroke-width="1.21"/>
<path transform="translate(121.62 577.3) scale(1.05)" d="M0.6 -4.3C1 -5.9 1.9 -6.45 3.3 -6.45L8.0 -6.45M5.4 -6.45L3.7 -0.6" fill="none" stroke="#0000ff" stroke-width="1.3" stroke-linecap="round"/>
<path d="M131.48 567.43h5.67" fill="none" stroke="#0000ff" stroke-width="1.21"/>
<text transform="translate(138.31 577.3) scale(1.019 1)" x="1.16" font-size="14.49" fill="#0000ff" font-style="italic" stroke="#0000ff" stroke-width="0.45">χ</text>
<ellipse cx="150.07" cy="570.47" rx="1.37" ry="1.68" fill="none" stroke="#0000ff" stroke-width="1.26"/>
<text transform="translate(147.03 580.55) scale(1.453 1)" x="-0.79" font-size="9.03" fill="#0000ff" stroke="#0000ff" stroke-width="0.45">1</text>
<text transform="translate(158.57 577.5) scale(1.003 1)" x="-0.65 4.25 15.68 23.86 34.47 45.09 54.9 65.51" font-size="14.7" fill="#0000ff" stroke="#0000ff" stroke-width="0.45">(mSUGRA)</text>
<path transform="translate(160.3 595.1) scale(1.05)" d="M0.6 -4.3C1 -5.9 1.9 -6.45 3.3 -6.45L8.0 -6.45M5.4 -6.45L3.7 -0.6" fill="none" stroke="#ff0000" stroke-width="1.3" stroke-linecap="round"/>
<path d="M169.7 585.34h5.78M172.59 582.45v5.78" fill="none" stroke="#ff0000" stroke-width="1.21"/>
<path transform="translate(177.42 595.1) scale(1.05)" d="M0.6 -4.3C1 -5.9 1.9 -6.45 3.3 -6.45L8.0 -6.45M5.4 -6.45L3.7 -0.6" fill="none" stroke="#ff0000" stroke-width="1.3" stroke-linecap="round"/>
<path d="M187.28 585.23h5.67" fill="none" stroke="#ff0000" stroke-width="1.21"/>
<text transform="translate(194.11 595.1) scale(1.019 1)" x="1.16" font-size="14.49" fill="#ff0000" font-style="italic" stroke="#ff0000" stroke-width="0.45">χ</text>
<ellipse cx="205.87" cy="588.27" rx="1.37" ry="1.68" fill="none" stroke="#ff0000" stroke-width="1.26"/>
<text transform="translate(202.83 598.36) scale(1.453 1)" x="-0.79" font-size="9.03" fill="#ff0000" stroke="#ff0000" stroke-width="0.45">1</text>
<text transform="translate(213.33 595.3) scale(0.976 1)" x="-0.65 4.25 9.14 17.32 30.39" font-size="14.7" fill="#ff0000" stroke="#ff0000" stroke-width="0.45">(ISM)</text>
<text transform="translate(309 455.9) scale(0.913 1)" x="-1.29" font-size="14.7" fill="#ff0000" stroke="#ff0000" stroke-width="0.32">1</text>
<path d="M314.77 446.24h5.25M317.4 443.4v5.67" fill="none" stroke="#ff0000" stroke-width="1.21"/>
<text transform="translate(321.7 455.9) scale(0.913 1)" x="-1.29" font-size="14.7" fill="#ff0000" stroke="#ff0000" stroke-width="0.32">1</text>
<path d="M328.11 446.34h5.88" fill="none" stroke="#ff0000" stroke-width="1.21"/>
<text transform="translate(335.25 456.21) scale(1.019 1)" x="1.16" font-size="14.49" fill="#ff0000" font-style="italic" stroke="#ff0000" stroke-width="0.45">χ</text>
<ellipse cx="347.01" cy="449.39" rx="1.37" ry="1.68" fill="none" stroke="#ff0000" stroke-width="1.26"/>
<text transform="translate(343.96 459.47) scale(1.453 1)" x="-0.79" font-size="9.03" fill="#ff0000" stroke="#ff0000" stroke-width="0.45">1</text>
<text transform="translate(358.25 455.9) scale(0.958 1)" x="-0.65 4.25 9.14 17.32 30.39" font-size="14.7" fill="#ff0000" stroke="#ff0000" stroke-width="0.45">(ISM)</text>
<text transform="translate(309 483) scale(0.913 1)" x="-1.29" font-size="14.7" fill="#000000" stroke="#000000" stroke-width="0.32">1</text>
<path d="M314.77 473.34h5.25M317.4 470.5v5.67" fill="none" stroke="#000000" stroke-width="1.21"/>
<text transform="translate(321.7 483) scale(0.913 1)" x="-1.29" font-size="14.7" fill="#000000" stroke="#000000" stroke-width="0.32">1</text>
<path d="M328.11 473.44h5.88" fill="none" stroke="#000000" stroke-width="1.21"/>
<text transform="translate(335.25 483.31) scale(1.019 1)" x="1.16" font-size="14.49" fill="#000000" font-style="italic" stroke="#000000" stroke-width="0.45">χ</text>
<ellipse cx="347.01" cy="476.49" rx="1.37" ry="1.68" fill="none" stroke="#000000" stroke-width="1.26"/>
<text transform="translate(343.96 486.57) scale(1.453 1)" x="-0.79" font-size="9.03" fill="#000000" stroke="#000000" stroke-width="0.45">1</text>
<path transform="translate(353.2 514.1) scale(1.07)" d="M0.6 -4.3C1 -5.9 1.9 -6.45 3.3 -6.45L8.0 -6.45M5.4 -6.45L3.7 -0.6" fill="none" stroke="#ff0000" stroke-width="1.3" stroke-linecap="round"/>
<path d="M362.78 504.15h5.89M365.72 501.21v5.89" fill="none" stroke="#ff0000" stroke-width="1.23"/>
<path transform="translate(370.37 514.1) scale(1.07)" d="M0.6 -4.3C1 -5.9 1.9 -6.45 3.3 -6.45L8.0 -6.45M5.4 -6.45L3.7 -0.6" fill="none" stroke="#ff0000" stroke-width="1.3" stroke-linecap="round"/>
<path d="M380.16 504.04h5.78" fill="none" stroke="#ff0000" stroke-width="1.23"/>
<text transform="translate(387.12 514.1) scale(1.019 1)" x="1.18" font-size="14.77" fill="#ff0000" font-style="italic" stroke="#ff0000" stroke-width="0.45">χ</text>
<ellipse cx="399.1" cy="507.15" rx="1.39" ry="1.71" fill="none" stroke="#ff0000" stroke-width="1.28"/>
<text transform="translate(396 517.42) scale(1.453 1)" x="-0.81" font-size="9.2" fill="#ff0000" stroke="#ff0000" stroke-width="0.45">1</text>
</svg></body></html>
